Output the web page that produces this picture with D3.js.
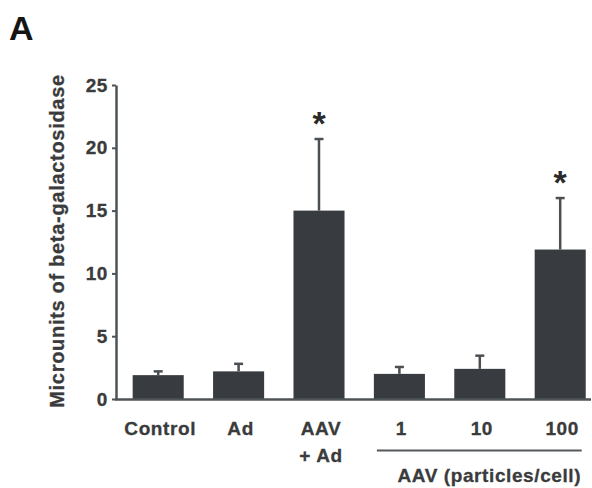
<!DOCTYPE html>
<html>
<head>
<meta charset="utf-8">
<script src="https://cdn.jsdelivr.net/npm/d3@7"></script>
<style>
  html, body { margin: 0; padding: 0; background: #ffffff; }
  svg { display: block; }
  text { font-family: "Liberation Sans", Arial, Helvetica, sans-serif; font-weight: bold; }
</style>
</head>
<body>
<svg id="chart" width="592" height="488"></svg>
<script>
// ---- data ----
const categories = ["Control", "Ad", "AAV + Ad", "1", "10", "100"];
const categoryLabels = [["Control"], ["Ad"], ["AAV", "+ Ad"], ["1"], ["10"], ["100"]];
const means = [1.9, 2.2, 15.0, 2.0, 2.4, 11.9];
const errorTops = [2.2, 2.8, 20.7, 2.55, 3.45, 16.0];
const significant = [false, false, true, false, false, true];
const yTicks = [0, 5, 10, 15, 20, 25];
const yTitle = "Microunits of beta-galactosidase";
const groupCategories = ["1", "10", "100"];
const groupTitle = "AAV (particles/cell)";
const panelLabel = "A";

// ---- scales ----
const svg = d3.select("#chart");
const y = d3.scaleLinear().domain([0, 25]).range([399, 85]);
const x = d3.scaleBand().domain(categories).range([118, 600.4])
  .paddingInner(0.365).paddingOuter(0.1825);
const bw = x.bandwidth();

const barColor = "#383c40";
const axisColor = "#4e5357";
const textColor = "#3a3b3c";

// panel label
svg.append("text").attr("x", 9).attr("y", 40)
  .attr("font-size", 34).attr("fill", "#151515").text(panelLabel);

// bars
svg.append("g").selectAll("rect").data(means).join("rect")
  .attr("x", (d, i) => x(categories[i]))
  .attr("y", d => y(d))
  .attr("width", bw)
  .attr("height", d => y(0) - y(d))
  .attr("fill", barColor);

// error bars (upper only)
const eb = svg.append("g").attr("stroke", "#4a4f54").attr("stroke-width", 2.5);
eb.selectAll("line.v").data(means).join("line").attr("class", "v")
  .attr("x1", (d, i) => x(categories[i]) + bw / 2)
  .attr("x2", (d, i) => x(categories[i]) + bw / 2)
  .attr("y1", d => y(d))
  .attr("y2", (d, i) => y(errorTops[i]));
eb.selectAll("line.c").data(errorTops).join("line").attr("class", "c")
  .attr("x1", (d, i) => x(categories[i]) + bw / 2 - 4.5)
  .attr("x2", (d, i) => x(categories[i]) + bw / 2 + 4.5)
  .attr("y1", d => y(d))
  .attr("y2", d => y(d));

// significance stars
svg.append("g").selectAll("text").data(categories.filter((c, i) => significant[i])).join("text")
  .attr("x", c => x(c) + bw / 2)
  .attr("y", c => y(errorTops[categories.indexOf(c)]) - 4)
  .attr("text-anchor", "middle")
  .attr("font-size", 34)
  .attr("fill", "#2a2a2a")
  .text("*");

// y axis
const yAxis = svg.append("g").attr("transform", "translate(116,0)")
  .call(d3.axisLeft(y).tickValues(yTicks).tickFormat(d3.format("d")).tickSize(4).tickSizeOuter(0).tickPadding(4));
yAxis.select(".domain").attr("stroke", axisColor).attr("stroke-width", 2.5);
yAxis.selectAll(".tick line").attr("stroke", axisColor).attr("stroke-width", 2);
yAxis.selectAll(".tick text")
  .attr("font-size", 19).attr("fill", textColor)
  .attr("stroke", textColor).attr("stroke-width", 0.3)
  .attr("font-family", "'Liberation Sans', Arial, sans-serif")
  .attr("font-weight", "bold").style("letter-spacing", "0.6px");

// x axis line
svg.append("line").attr("x1", 115).attr("x2", 591).attr("y1", 399.5).attr("y2", 399.5)
  .attr("stroke", axisColor).attr("stroke-width", 2.5);

// x labels
const xl = svg.append("g").selectAll("text").data(categories).join("text")
  .attr("text-anchor", "middle")
  .attr("font-size", 19)
  .attr("fill", textColor)
  .attr("stroke", textColor).attr("stroke-width", 0.3)
  .style("letter-spacing", "0.6px")
  .attr("transform", c => `translate(${x(c) + bw / 2 + 2},435)`);
xl.each(function(c, i) {
  d3.select(this).selectAll("tspan").data(categoryLabels[i]).join("tspan")
    .attr("x", 0).attr("dy", (d, j) => j === 0 ? 0 : 27).text(d => d);
});

// group line and title
const gx1 = x(groupCategories[0]) + 3;
const gx2 = x(groupCategories[groupCategories.length - 1]) + bw - 4;
svg.append("line").attr("x1", gx1).attr("x2", gx2).attr("y1", 450.5).attr("y2", 450.5)
  .attr("stroke", "#55595c").attr("stroke-width", 2);
svg.append("text").attr("x", (gx1 + gx2) / 2 + 10).attr("y", 482)
  .attr("text-anchor", "middle").attr("font-size", 19).attr("fill", textColor)
  .attr("stroke", textColor).attr("stroke-width", 0.3)
  .style("letter-spacing", "0.6px").text(groupTitle);

// y title
svg.append("text")
  .attr("transform", "translate(64,241) rotate(-90)")
  .attr("text-anchor", "middle").attr("font-size", 20).attr("fill", textColor)
  .attr("stroke", textColor).attr("stroke-width", 0.3)
  .style("letter-spacing", "0.7px").text(yTitle);
</script>
</body>
</html>
